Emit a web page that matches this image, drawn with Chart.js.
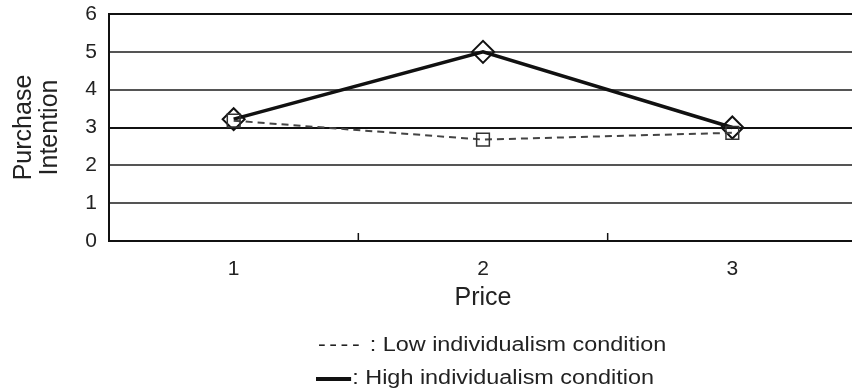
<!DOCTYPE html>
<html>
<head>
<meta charset="utf-8">
<script src="https://cdn.jsdelivr.net/npm/chart.js@4/dist/chart.umd.min.js"></script>
<style>
html, body { margin: 0; padding: 0; background: #fff; overflow: hidden; }
#wrap { position: relative; width: 852px; height: 389px; overflow: hidden; }
#box { position: absolute; left: 0; top: 0; width: 870px; height: 389px; }
.leg {
  position: absolute;
  font-family: "Liberation Sans", Arial, sans-serif;
  font-size: 20px;
  line-height: 24px;
  color: #222;
  white-space: nowrap;
  transform-origin: 0 50%;
  transform: scaleX(1.17);
}
.bar { display: inline-block; width: 30px; height: 4px; background: #111; vertical-align: middle; margin-right: 1px; }
</style>
</head>
<body>
<div id="wrap">
  <div id="box"><canvas id="chart"></canvas></div>
  <div class="leg" style="left:318px; top:332px;"><span style="letter-spacing:3px">----</span> : Low individualism condition</div>
  <div class="leg" style="left:316px; top:365px;"><span class="bar"></span>: High individualism condition</div>
</div>
<script>
var prices = ['1', '2', '3'];
var lowIndividualism = [3.18, 2.68, 2.86];
var highIndividualism = [3.22, 5.0, 3.0];
var yTicks = [0, 1, 2, 3, 4, 5, 6];

const font = '"Liberation Sans", Arial, sans-serif';

// small inward tick marks between the categories
const innerTicks = {
  id: 'innerTicks',
  afterDatasetsDraw(chart) {
    const x = chart.scales.x;
    const bottom = chart.chartArea.bottom;
    const ctx = chart.ctx;
    ctx.save();
    ctx.strokeStyle = '#111';
    ctx.lineWidth = 1.5;
    for (let i = 0; i < prices.length - 1; i++) {
      const px = (x.getPixelForValue(i) + x.getPixelForValue(i + 1)) / 2;
      ctx.beginPath();
      ctx.moveTo(px, bottom);
      ctx.lineTo(px, bottom - 8);
      ctx.stroke();
    }
    ctx.restore();
  }
};

const config = {
  type: 'line',
  data: {
    labels: prices,
    datasets: [{
      label: 'Low individualism condition',
      data: lowIndividualism,
      borderColor: '#444',
      borderWidth: 2,
      borderDash: [7, 5],
      pointStyle: 'rect',
      pointRadius: 9,
      pointBorderWidth: 1.5,
      pointBorderColor: '#333',
      pointBackgroundColor: 'rgba(255,255,255,0)',
      tension: 0
    }, {
      label: 'High individualism condition',
      data: highIndividualism,
      borderColor: '#111',
      borderWidth: 3.5,
      pointStyle: 'rectRot',
      pointRadius: 11,
      pointBorderWidth: 2,
      pointBorderColor: '#111',
      pointBackgroundColor: 'rgba(255,255,255,0)',
      tension: 0
    }]
  },
  options: {
    responsive: true,
    maintainAspectRatio: false,
    animation: false,
    devicePixelRatio: 1,
    layout: {
      padding: { top: 14, left: 0, right: 7, bottom: 73 }
    },
    plugins: {
      legend: { display: false },
      tooltip: { enabled: false }
    },
    scales: {
      x: {
        offset: true,
        grid: { display: false },
        border: { display: true, color: '#111', width: 2 },
        ticks: { color: '#222', padding: 8, font: { family: font, size: 21 } },
        title: {
          display: true,
          text: 'Price',
          color: '#222',
          padding: { top: 0, bottom: 4 },
          font: { family: font, size: 25, lineHeight: 1.1 }
        },
        afterFit(scale) { scale.height = 75; }
      },
      y: {
        min: 0,
        max: 6,
        afterBuildTicks(scale) { scale.ticks = yTicks.map(v => ({ value: v })); },
        grid: {
          drawTicks: false,
          lineWidth: 2,
          color: ctx => (ctx.tick && (ctx.tick.value === 3 || ctx.tick.value === 6)) ? '#111' : '#555'
        },
        border: { display: true, color: '#111', width: 2 },
        ticks: { color: '#222', padding: 12, font: { family: font, size: 21 } },
        title: {
          display: true,
          text: ['Purchase', 'Intention'],
          color: '#222',
          padding: { top: 11, bottom: 0 },
          font: { family: font, size: 25, lineHeight: 1.04 }
        },
        afterFit(scale) {
          scale.width = 109;
          scale.paddingTop = 0;
          scale.paddingBottom = 0;
        }
      }
    }
  },
  plugins: [innerTicks]
};

new Chart(document.getElementById('chart'), config);
</script>
</body>
</html>
